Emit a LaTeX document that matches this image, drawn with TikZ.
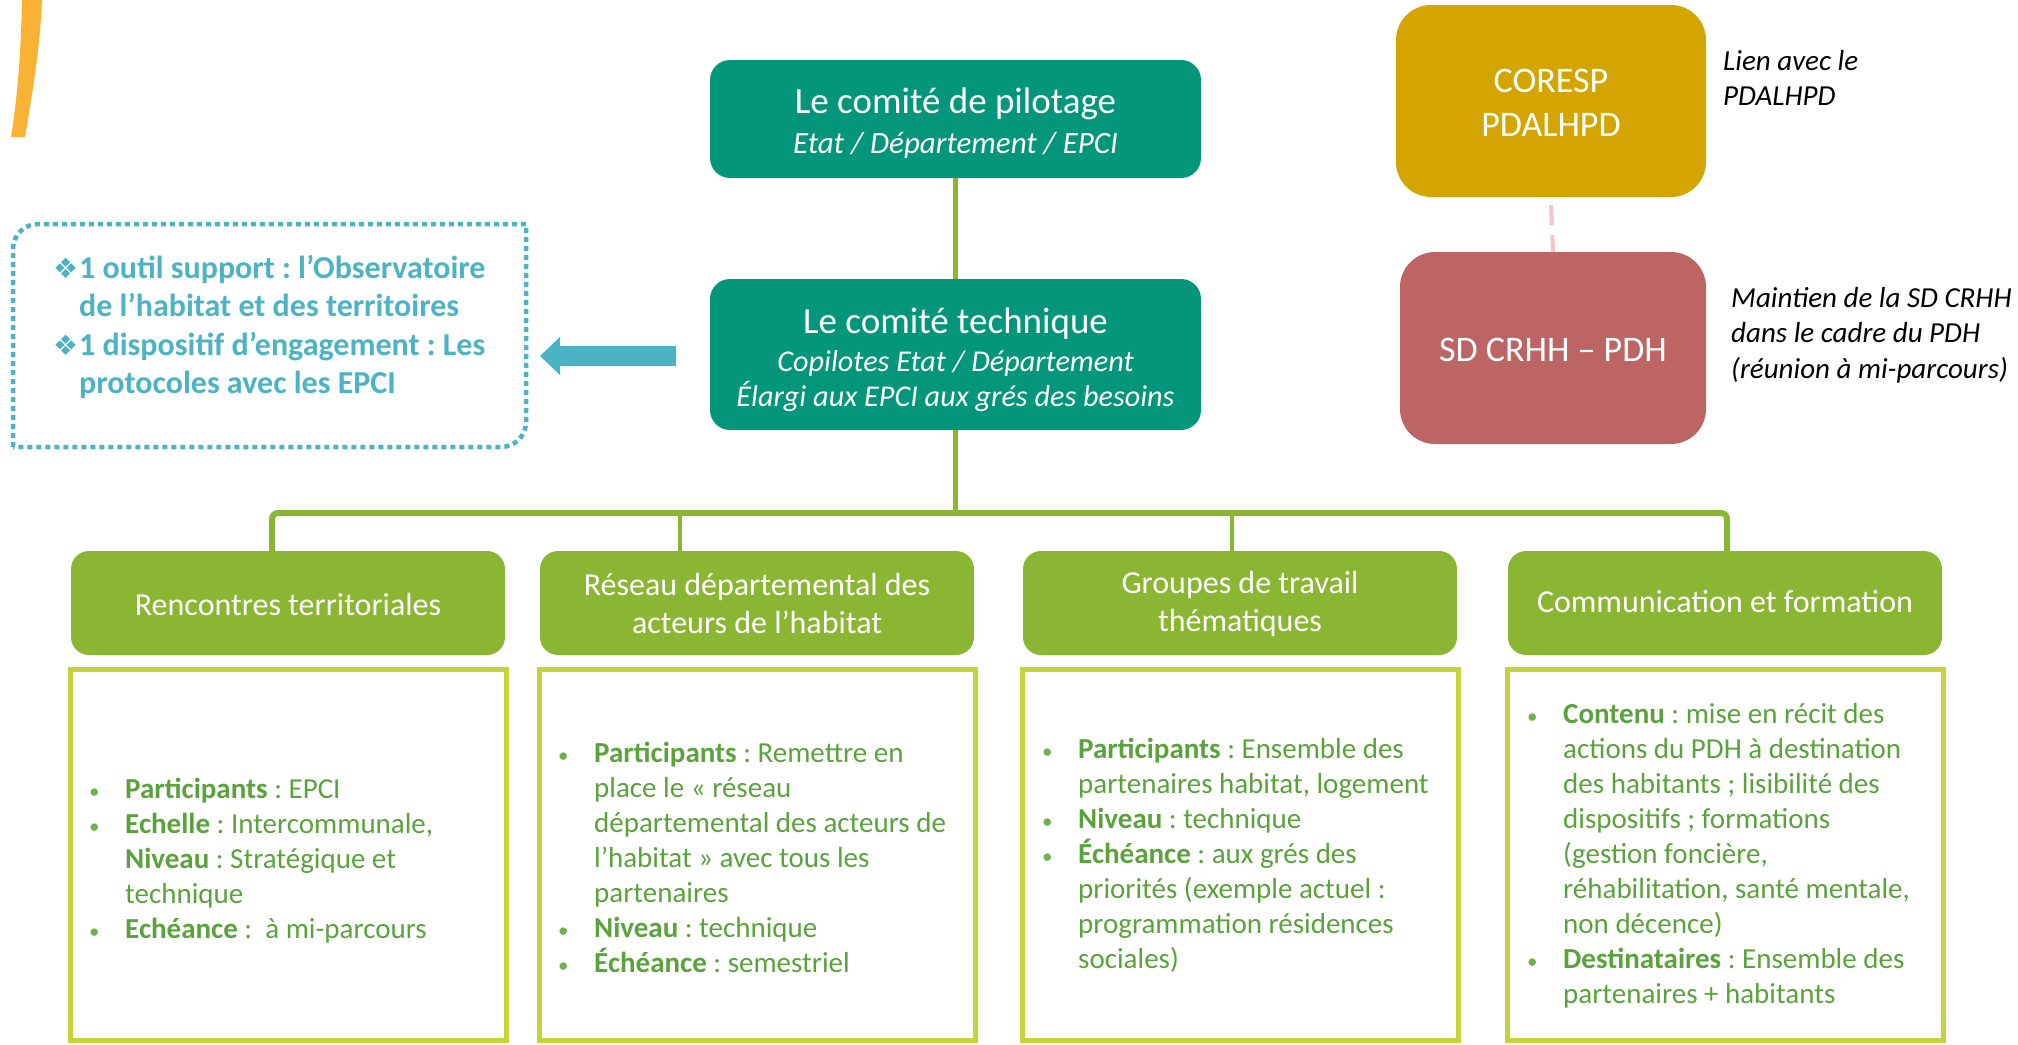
\documentclass[tikz,border=0pt]{standalone}
\usepackage{fontspec}
\setmainfont{Carlito}
\newfontfamily\dejavu{DejaVu Sans}
\definecolor{dkgreen}{HTML}{04967A}
\definecolor{hgreen}{HTML}{8BB634}
\definecolor{cboxcol}{HTML}{C5D43A}
\definecolor{txtgreen}{HTML}{5AA23C}
\definecolor{bulgreen}{HTML}{6FB24A}
\definecolor{tealc}{HTML}{4BB3C4}
\definecolor{goldc}{HTML}{D4A500}
\definecolor{rosec}{HTML}{BD6565}
\definecolor{pinkc}{HTML}{F2C6C6}
\definecolor{orangec}{HTML}{F9B233}
\frenchspacing
\newcommand{\bul}{\makebox[36pt][l]{\textcolor{bulgreen}{\fontsize{21}{21}\selectfont\textbullet}}}
\newcommand{\ind}{\hspace*{36pt}}
\newcommand{\dbul}{\makebox[26pt][l]{{\dejavu\fontsize{28}{28}\selectfont ❖}}}
\newcommand{\dind}{\hspace*{26pt}}
\begin{document}
\begin{tikzpicture}[x=1pt,y=-1pt,
  combox/.style={fill=dkgreen, rounded corners=20pt, minimum width=491pt, inner sep=0pt},
  hdrbox/.style={fill=hgreen, rounded corners=18pt, minimum width=434pt, minimum height=104pt, inner sep=0pt},
  contbox/.style={draw=cboxcol, line width=5pt, minimum width=436pt, minimum height=371pt, inner sep=0pt},
  sidebox/.style={rounded corners=35pt, inner sep=0pt},
  wtitle/.style={white, anchor=base, inner sep=0pt, font=\fontsize{37}{44}\selectfont},
  wsub/.style={white, anchor=base, inner sep=0pt, font=\itshape\fontsize{30.2}{35}\selectfont},
  htext/.style={white, anchor=base, inner sep=0pt, text width=420pt, align=flush center, font=\fontsize{32}{38}\selectfont},
  btext/.style={txtgreen, anchor=base west, inner sep=0pt, text width=420pt, align=flush left, font=\fontsize{29}{35}\selectfont},
  ntext/.style={black, anchor=base west, inner sep=0pt, text width=300pt, align=flush left, font=\itshape\fontsize{29}{35.5}\selectfont},
  link/.style={draw=hgreen, line width=4.5pt},
  dotbox/.style={draw=tealc, line width=4.5pt, dash pattern=on 5pt off 4pt}
]
\useasboundingbox (0,0) rectangle (2018,1044);

% orange arc
\fill[orangec] (22,0) .. controls (21,55) and (17,100) .. (11,137) -- (25,137) .. controls (32,95) and (40,50) .. (42,0) -- cycle;

% comites
\node[combox, minimum height=118pt] (cp) at (955.5,119) {};
\node[wtitle] (cpt) at (955.5,113) {Le comité de pilotage};
\node[wsub, font=\itshape\fontsize{31}{35}\selectfont] (cps) at (955.5,153) {Etat / Département / EPCI};

\node[combox, minimum height=151pt] (ct) at (955.5,354.5) {};
\node[wtitle] (ctt) at (955.5,333) {Le comité technique};
\node[wsub] (cts1) at (955.5,371) {Copilotes Etat / Département};
\node[wsub] (cts2) at (955.5,406) {Élargi aux EPCI aux grés des besoins};

\draw[link] (cp.south) -- (ct.north);

% headers
\node[hdrbox] (h1) at (288,603) {};
\node[hdrbox] (h2) at (757,603) {};
\node[hdrbox] (h3) at (1240,603) {};
\node[hdrbox] (h4) at (1725,603) {};
\node[htext] (h1t) at (288,615) {Rencontres territoriales};
\node[htext] (h2t) at (757,595) {Réseau départemental des\\acteurs de l’habitat};
\node[htext] (h3t) at (1240,593) {Groupes de travail\\thématiques};
\node[htext] (h4t) at (1725,612) {Communication et formation};

% tree connectors
\coordinate (bar) at (955.5,513);
\draw[link] (ct.south) -- (bar);
\draw[draw=hgreen, line width=6pt, rounded corners=6pt] (h1.north -| 272,0) -- (272,513) -- (1727,513) -- (h4.north -| 1727,0);
\draw[draw=hgreen, line width=4pt, rounded corners=4pt] (680,513) -- (h2.north -| 680,0);
\draw[draw=hgreen, line width=4pt, rounded corners=4pt] (1232,513) -- (h3.north -| 1232,0);

% content boxes
\node[contbox] (c1) at (288,854.5) {};
\node[contbox] (c2) at (757,854.5) {};
\node[contbox] (c3) at (1240,854.5) {};
\node[contbox] (c4) at (1725,854.5) {};

\node[btext] (b1) at (89,798) {\bul\textbf{Participants} : EPCI\\
\bul\textbf{Echelle} : Intercommunale,\\
\ind\textbf{Niveau} : Stratégique et\\
\ind technique\\
\bul\textbf{Echéance} :~~à mi-parcours};

\node[btext] (b2) at (558,762) {\bul\textbf{Participants} : Remettre en\\
\ind place le « réseau\\
\ind départemental des acteurs de\\
\ind l’habitat » avec tous les\\
\ind partenaires\\
\bul\textbf{Niveau} : technique\\
\bul\textbf{Échéance} : semestriel};

\node[btext] (b3) at (1042,758) {\bul\textbf{Participants} : Ensemble des\\
\ind partenaires habitat, logement\\
\bul\textbf{Niveau} : technique\\
\bul\textbf{Échéance} : aux grés des\\
\ind priorités (exemple actuel :\\
\ind programmation résidences\\
\ind sociales)};

\node[btext] (b4) at (1527,723) {\bul\textbf{Contenu} : mise en récit des\\
\ind actions du PDH à destination\\
\ind des habitants ; lisibilité des\\
\ind dispositifs ; formations\\
\ind (gestion foncière,\\
\ind réhabilitation, santé mentale,\\
\ind non décence)\\
\bul\textbf{Destinataires} : Ensemble des\\
\ind partenaires + habitants};

% side boxes
\node[sidebox, fill=goldc, minimum width=310pt, minimum height=192pt] (cor) at (1551,101) {};
\node[htext, text width=300pt, font=\fontsize{36}{44}\selectfont] (cort) at (1551,92) {CORESP\\PDALHPD};
\node[sidebox, fill=rosec, minimum width=306pt, minimum height=192pt] (sd) at (1553,348) {};
\node[htext, text width=300pt, font=\fontsize{36}{44}\selectfont] (sdt) at (1553,361) {SD CRHH – PDH};
\draw[draw=pinkc, line width=4pt, dash pattern=on 20pt off 10pt] (cor.south) ++(0,8) coordinate (dsA) -- (sd.north);

\node[ntext] (n1) at (1723,70) {Lien avec le\\PDALHPD};
\node[ntext, text width=285pt] (n2) at (1731,307) {Maintien de la SD CRHH\\dans le cadre du PDH\\(réunion à mi-parcours)};

% dotted box
\draw[dotbox] (13,447) -- (13,249) arc[start angle=180, end angle=270, radius=25] -- (526,224) -- (526,422) arc[start angle=0, end angle=90, radius=25] -- cycle;
\node[anchor=base west, inner sep=0pt, tealc, text width=460pt, align=flush left, font=\bfseries\fontsize{32}{38.5}\selectfont] (dtext) at (53,278) {\dbul 1 outil support : l’Observatoire\\
\dind de l’habitat et des territoires\\
\dbul 1 dispositif d’engagement : Les\\
\dind protocoles avec les EPCI};

% arrow
\coordinate (arrT) at (676,356);
\fill[tealc] (arrT) ++(0,-10) -- (560,346) -- (560,337) -- (540,356) -- (560,375) -- (560,366) -- (676,366) -- cycle;
\end{tikzpicture}
\end{document}
